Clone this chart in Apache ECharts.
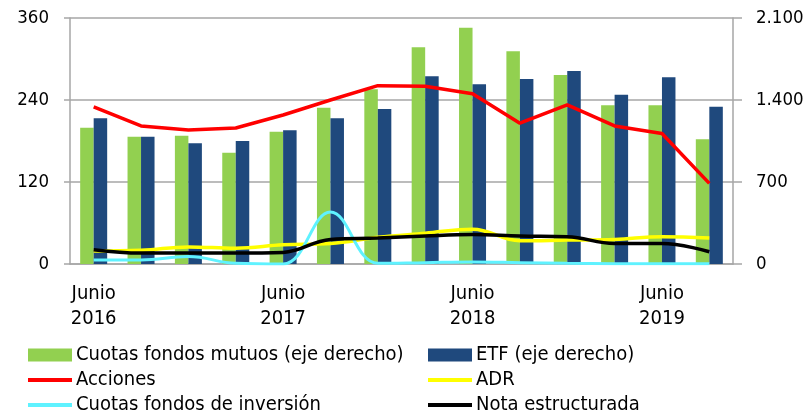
<!DOCTYPE html>
<html>
<head>
<meta charset="utf-8">
<script src="https://cdn.jsdelivr.net/npm/echarts@6/dist/echarts.min.js"></script>
<style>
  html, body { margin: 0; padding: 0; background: #fff; }
  #chart { width: 809px; height: 416px; }
</style>
</head>
<body>
<div id="chart"></div>
<script>
// trimestres jun-2016 .. sep-2019
var categories = ['Jun 2016', 'Sep 2016', 'Dic 2016', 'Mar 2017', 'Jun 2017', 'Sep 2017', 'Dic 2017',
  'Mar 2018', 'Jun 2018', 'Sep 2018', 'Dic 2018', 'Mar 2019', 'Jun 2019', 'Sep 2019'];
var tickLabels = ['Junio\n2016', '', '', '', 'Junio\n2017', '', '', '', 'Junio\n2018', '', '', '', 'Junio\n2019', ''];

// eje derecho
var fondosMutuos = [1164, 1087, 1095, 950, 1130, 1334, 1491, 1850, 2017, 1816, 1613, 1355, 1355, 1064];
var etf = [1244, 1087, 1030, 1050, 1141, 1244, 1323, 1602, 1534, 1579, 1648, 1445, 1594, 1343];

// eje izquierdo
var acciones = [230, 202, 196, 199, 218, 240, 261, 260, 249, 206, 233, 202, 191, 118];
var adr = [19, 20, 25, 23, 28, 30, 39, 45, 51, 34, 35, 36, 40, 38];
var fondosInversion = [6, 6, 11, 1, 0, 76, 1, 2, 3, 2, 1, 0.5, 0.5, 0.5];
var notaEstructurada = [21, 16, 16, 16, 17, 36, 38, 41, 43, 41, 40, 30, 30, 18];

var chart = echarts.init(document.getElementById('chart'));
var font = '"Liberation Sans Narrow", "DejaVu Sans Condensed", sans-serif';
var gridColor = '#a6a6a6';

function legendAt(name, left, top, h) {
  return {
    data: [name], left: left, top: top, icon: 'rect',
    itemWidth: 44, itemHeight: h, itemGap: 0, padding: 0,
    textStyle: { fontFamily: font, fontSize: 20, color: '#000', padding: [0, 0, 0, -1] }
  };
}

chart.setOption({
  animation: false,
  grid: { left: 70, right: 76, top: 18, bottom: 152 },
  legend: [
    legendAt('Cuotas fondos mutuos (eje derecho)', 28, 345, 13),
    legendAt('ETF (eje derecho)', 428, 345, 13),
    legendAt('Acciones', 28, 370, 4),
    legendAt('ADR', 428, 370, 4),
    legendAt('Cuotas fondos de inversión', 28, 395, 4),
    legendAt('Nota estructurada', 428, 395, 4)
  ],
  xAxis: {
    type: 'category',
    data: categories,
    axisLine: { lineStyle: { color: gridColor, width: 1.5 } },
    axisTick: { interval: 3, length: 6, lineStyle: { color: gridColor, width: 1.5 } },
    axisLabel: {
      interval: 0,
      formatter: function (v, i) { return tickLabels[i]; },
      fontFamily: font, fontSize: 20, color: '#000', lineHeight: 25, margin: 17
    }
  },
  yAxis: [
    {
      type: 'value', min: 0, max: 360, interval: 120,
      axisLine: { show: true, lineStyle: { color: gridColor, width: 1.5 } },
      axisTick: { show: true, length: 6, lineStyle: { color: gridColor, width: 1.5 } },
      splitLine: { lineStyle: { color: gridColor, width: 1.5 } },
      axisLabel: { fontFamily: font, fontSize: 18.5, color: '#000', margin: 21 }
    },
    {
      type: 'value', min: 0, max: 2100, interval: 700,
      axisLine: { show: true, lineStyle: { color: gridColor, width: 1.5 } },
      axisTick: { show: true, length: 9, lineStyle: { color: gridColor, width: 1.5 } },
      splitLine: { show: false },
      axisLabel: {
        fontFamily: font, fontSize: 18.5, color: '#000', margin: 23,
        formatter: function (v) { return String(v).replace(/\B(?=(\d{3})+(?!\d))/g, '.'); }
      }
    }
  ],
  series: [
    {
      name: 'Cuotas fondos mutuos (eje derecho)', type: 'bar', yAxisIndex: 1,
      data: fondosMutuos, barWidth: 13.5, barGap: '0%',
      itemStyle: { color: '#92d050' }
    },
    {
      name: 'ETF (eje derecho)', type: 'bar', yAxisIndex: 1,
      data: etf, barWidth: 13.5, barGap: '0%',
      itemStyle: { color: '#1f497d' }
    },
    {
      name: 'Acciones', type: 'line', data: acciones, symbol: 'none',
      lineStyle: { color: '#ff0000', width: 3.5 }, itemStyle: { color: '#ff0000' }
    },
    {
      name: 'ADR', type: 'line', data: adr, symbol: 'none', smooth: 0.4,
      lineStyle: { color: '#ffff00', width: 3.5 }, itemStyle: { color: '#ffff00' }
    },
    {
      name: 'Cuotas fondos de inversión', type: 'line', data: fondosInversion, symbol: 'none', smooth: 0.4,
      lineStyle: { color: '#5ff2ff', width: 3 }, itemStyle: { color: '#5ff2ff' }
    },
    {
      name: 'Nota estructurada', type: 'line', data: notaEstructurada, symbol: 'none', smooth: 0.4,
      lineStyle: { color: '#000000', width: 3.5 }, itemStyle: { color: '#000000' }
    }
  ]
});
</script>
</body>
</html>
